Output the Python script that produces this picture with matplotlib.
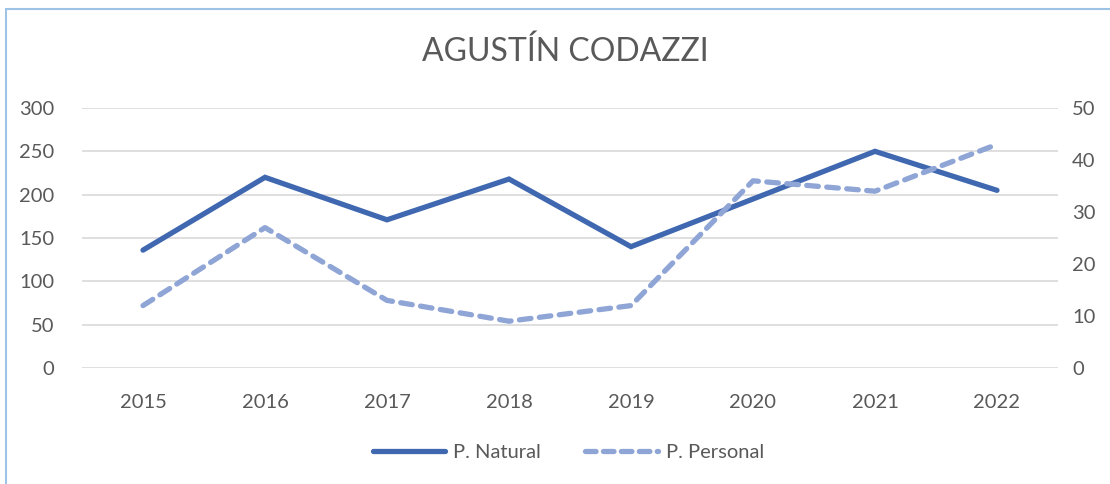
import matplotlib.pyplot as plt
import numpy as np
from matplotlib.lines import Line2D
from matplotlib.patches import Rectangle

plt.rcParams['font.family'] = ['Lato', 'DejaVu Sans']

years = ['2015', '2016', '2017', '2018', '2019', '2020', '2021', '2022']
natural = [136, 220, 171, 218, 140, 195, 250, 205]
personal = [12, 27, 13, 9, 12, 36, 34, 43]

c_nat = '#4068B0'
c_per = '#8FA5D6'
txt = '#595959'

fig = plt.figure(figsize=(11.1, 4.84), dpi=100)
ax = fig.add_axes([82 / 1110, 1 - 368 / 484, 976 / 1110, 260 / 484])
ax2 = ax.twinx()

x = np.arange(len(years))
ax.plot(x, natural, color=c_nat, lw=3.8, solid_capstyle='round', solid_joinstyle='miter', zorder=3)
ax2.plot(x, personal, color=c_per, lw=3.8, dashes=(2.2, 1.6), dash_capstyle='round', zorder=3)

ax.set_xlim(-0.5, len(years) - 0.5)
ax.set_ylim(0, 300)
ax2.set_ylim(0, 50)
ax.set_yticks(range(0, 301, 50))
ax2.set_yticks(range(0, 51, 10))
ax.set_xticks(x)
ax.set_xticklabels(years)
ax.grid(axis='y', color='#D9D9D9', lw=1.2)
ax.set_axisbelow(True)

for a in (ax, ax2):
    for s in a.spines.values():
        s.set_visible(False)
    a.tick_params(length=0, labelsize=14.5, colors=txt)
ax.tick_params(axis='y', pad=20)
ax.tick_params(axis='x', pad=19)
ax2.tick_params(axis='y', pad=10)
ax2.set_zorder(ax.get_zorder() + 1)
ax2.patch.set_visible(False)

fig.text(565 / 1110, 1 - 52 / 484, 'AGUSTÍN CODAZZI', ha='center', va='center',
         fontsize=23, color=txt)

handles = [Line2D([], [], color=c_nat, lw=3.8, solid_capstyle='round'),
           Line2D([], [], color=c_per, lw=3.8, dashes=(2.0, 1.4), dash_capstyle='round')]
fig.legend(handles, ['P. Natural', 'P. Personal'], loc='center', bbox_to_anchor=(0.512, 1 - 452 / 484),
           ncol=2, frameon=False, fontsize=14.5, labelcolor=txt, handlelength=3.6, columnspacing=2.2,
           handletextpad=0.4)

fig.add_artist(Rectangle((6 / 1110, -0.05), 1.2, 1.05 - 9 / 484, transform=fig.transFigure,
                         fill=False, edgecolor='#9DC3E6', lw=1.5))

fig.savefig('out.png', dpi=100)
